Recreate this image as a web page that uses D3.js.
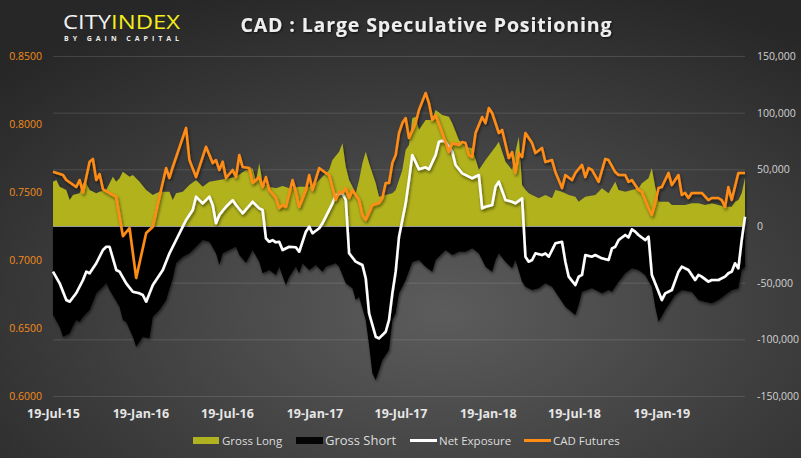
<!DOCTYPE html>
<html><head><meta charset="utf-8">
<script src="https://cdn.jsdelivr.net/npm/d3@7"></script>
<style>html,body{margin:0;padding:0;background:#333;} svg{display:block;}</style>
</head><body><svg id="c" width="801" height="458"></svg>
<script>
// ---------- DATA ----------
const startDate = "2015-07-19";            // first weekly observation
const xTickLabels = ["2015-07-19","2016-01-19","2016-07-19","2017-01-19","2017-07-19","2018-01-19","2018-07-19","2019-01-19"];
const rightTicks = [150000,100000,50000,0,-50000,-100000,-150000];
const leftTicks = [0.60,0.65,0.70,0.75,0.80,0.85];
const legendNames = ["Gross Long","Gross Short","Net Exposure","CAD Futures"];

// weeks since start / values
const longWeeks = [0,1,2,4,5,6,8,9,10,11,13,14,16,18,19,20,21,23,24,26,28,30,32,35,36,37,39,41,43,45,47,50,53,55,58,60,61,62,63,65,67,69,71,74,77,79,81,83,84,86,87,88,89,91,92,93,94,95,97,98,100,102,103,105,106,107,108,109,110,112,114,115,117,119,120,122,124,126,128,130,133,134,136,138,139,140,141,142,143,144,146,148,150,151,153,155,157,158,160,163,164,165,167,169,170,172,174,176,177,179,180,181,182,184,185,186,188,190,192,194,196,198,200,202,204,205,206,207,208];
const longValues = [39100,40600,34700,31800,22900,27400,28900,37700,37700,31800,28900,30300,31800,43500,39100,42100,47900,43500,45000,39100,31800,27400,30300,30300,22900,28900,30300,36200,40600,34700,39100,40600,42100,43500,49400,50900,39100,55300,37700,34700,33300,35300,33300,34700,34700,37700,43500,49400,58200,65600,73000,52300,40600,28900,40600,55300,65600,55300,37700,25900,27400,28900,31800,49400,67100,71500,95000,96400,84700,93500,93500,102400,97900,96400,90600,75900,70000,68600,49400,58200,70000,74400,56700,49400,65600,78800,36000,32000,28900,27400,24400,27400,24400,31800,30300,27400,25900,21400,25900,27400,30300,33300,28900,39100,31800,30300,31800,33300,37700,42100,50900,34700,21400,21400,21400,18500,18500,18500,20000,20000,18500,20000,18500,17000,17000,21400,22900,28900,42400];

const shortWeeks = [0,2,3,5,6,7,8,9,11,12,13,15,16,17,20,21,22,24,25,26,27,29,30,32,34,36,37,39,41,43,45,47,49,50,51,53,55,56,58,60,62,63,65,67,68,70,71,73,74,75,77,79,81,82,85,86,88,90,91,92,94,95,96,97,98,99,101,102,103,104,106,108,110,112,114,115,117,118,120,122,124,126,128,130,132,133,134,136,138,139,141,142,144,146,148,150,152,154,157,158,159,162,165,167,168,170,172,174,176,178,180,181,182,184,187,189,192,194,196,198,200,202,204,206,207,208];
const shortValues = [-78500,-88900,-97700,-94700,-88200,-82900,-84700,-80000,-74100,-67100,-59400,-53600,-50300,-56500,-71200,-82900,-84700,-97700,-106500,-102100,-97700,-99100,-80000,-74100,-65300,-46200,-32600,-27100,-24100,-18300,-12400,-13900,-24100,-34400,-24100,-21200,-18300,-25600,-32400,-21200,-31500,-41700,-38800,-43200,-35900,-52100,-44700,-35900,-41700,-32900,-38800,-34400,-40300,-35900,-32900,-35900,-50600,-55000,-65300,-62400,-82900,-105000,-130000,-135900,-127100,-118200,-109400,-82900,-77000,-59400,-47650,-31800,-30000,-35900,-40300,-30000,-24100,-21200,-25600,-22700,-22700,-19700,-24100,-35900,-40300,-30000,-24100,-31500,-37300,-30000,-49100,-53600,-56500,-55000,-50600,-53600,-62400,-71200,-78500,-69700,-58000,-55000,-59400,-56500,-58000,-49100,-41700,-37300,-38800,-43200,-53600,-71200,-84400,-74100,-60900,-56500,-58000,-65300,-66800,-68200,-65300,-60900,-56500,-55000,-38800,-35900];

const netWeeks = [0,2,4,5,7,9,10,11,12,13,15,16,17,19,20,22,24,26,27,28,30,31,33,35,37,39,40,42,43,45,47,48,49,50,52,54,55,57,60,62,63,64,65,66,67,68,69,71,73,74,76,77,78,80,81,82,84,85,87,88,89,91,93,94,95,97,98,100,101,102,103,104,106,107,108,110,112,113,115,116,117,118,120,121,123,125,126,128,129,130,132,133,134,136,138,139,141,142,143,144,145,147,148,149,151,153,154,155,157,158,159,160,162,163,165,167,168,169,170,172,173,174,175,176,178,179,180,181,183,184,186,188,189,191,192,193,194,195,197,198,200,202,203,204,205,206,207,208];
const netValues = [-40300,-50600,-65300,-66800,-59100,-47650,-40300,-41700,-37300,-32900,-21200,-18300,-18300,-38800,-40300,-50600,-58000,-59400,-60900,-66800,-52100,-47650,-38800,-24100,-12350,-600,5300,14100,25900,20000,25900,18500,2400,9700,17000,22900,18500,11200,21400,15600,14100,-10900,-13900,-12400,-14400,-13900,-21200,-18300,-18800,-22700,-5000,-600,-6400,-2000,2400,8200,20000,27400,28900,22900,-24100,-31500,-34400,-46200,-77000,-97700,-99100,-93300,-82900,-59400,-40300,-9400,20000,40600,62700,50000,51800,50000,62700,74400,75300,74400,65600,53800,46500,43500,42100,45000,15600,17000,18500,34700,39100,22900,21400,20000,24400,-27100,-31500,-30000,-24100,-25600,-24100,-27100,-15300,-13900,-31500,-44700,-52100,-44700,-43200,-25600,-27100,-25600,-28500,-30000,-19700,-18300,-12400,-7900,-10000,-2900,-5000,-7900,-12400,-9400,-43200,-50600,-65300,-59400,-56500,-40300,-35900,-38800,-43200,-47650,-43200,-44700,-49100,-47650,-47650,-44700,-41700,-40300,-32900,-37300,-12400,8200];

const futuresWeeks = [0,3,4,7,8,9,11,12,13,14,15,19,21,23,25,28,30,32,34,35,36,40,41,43,46,48,49,50,51,52,54,55,56,57,59,60,62,63,64,65,67,68,69,70,72,73,74,76,77,78,80,82,83,85,86,87,88,89,90,92,93,94,96,98,99,100,101,102,103,104,105,106,107,109,110,112,113,114,115,117,119,120,122,123,124,125,126,127,129,130,131,132,134,135,137,138,139,140,141,142,144,145,147,148,150,151,153,154,156,157,159,160,161,162,164,166,167,169,170,172,173,174,176,177,179,180,181,182,183,185,186,188,189,190,191,192,194,195,197,198,200,201,202,203,204,206,208];
const futuresPrices = [0.7649,0.7625,0.7588,0.7537,0.7588,0.7495,0.7723,0.7743,0.7588,0.7632,0.7522,0.7465,0.7176,0.7235,0.6868,0.7199,0.7245,0.7465,0.7676,0.7603,0.7684,0.7971,0.7735,0.7610,0.7833,0.7713,0.7735,0.7662,0.7723,0.7603,0.7662,0.7610,0.7772,0.7684,0.7676,0.7566,0.7610,0.7537,0.7610,0.7515,0.7456,0.7382,0.7404,0.7390,0.7588,0.7500,0.7390,0.7515,0.7625,0.7515,0.7676,0.7640,0.7625,0.7441,0.7500,0.7493,0.7529,0.7456,0.7515,0.7441,0.7331,0.7294,0.7404,0.7419,0.7456,0.7566,0.7566,0.7713,0.7772,0.7934,0.8007,0.8044,0.7897,0.8007,0.8103,0.8228,0.8154,0.8029,0.8066,0.7934,0.7794,0.7860,0.7846,0.7868,0.7860,0.7772,0.7757,0.7934,0.8051,0.8007,0.8118,0.8081,0.7934,0.7956,0.7750,0.7794,0.7640,0.7787,0.7757,0.7934,0.7860,0.7787,0.7824,0.7721,0.7735,0.7647,0.7529,0.7625,0.7588,0.7640,0.7699,0.7610,0.7676,0.7662,0.7574,0.7743,0.7735,0.7647,0.7625,0.7625,0.7574,0.7588,0.7515,0.7500,0.7382,0.7331,0.7419,0.7529,0.7537,0.7640,0.7551,0.7625,0.7478,0.7493,0.7456,0.7493,0.7493,0.7493,0.7441,0.7456,0.7456,0.7441,0.7390,0.7537,0.7441,0.7640,0.7640];

// ---------- STYLE ----------
const C = {long:"#b1b21f", short:"#050505", net:"#ffffff", fut:"#ff8c14", grid:"rgba(255,255,255,0.13)"};
const W = 801, H = 458;
const svg = d3.select("#c");
const defs = svg.append("defs");
const rg = defs.append("radialGradient").attr("id","bg").attr("cx","55%").attr("cy","68%").attr("r","75%");
rg.append("stop").attr("offset","0%").attr("stop-color","#5c5c5c");
rg.append("stop").attr("offset","100%").attr("stop-color","#272727");
const sh = defs.append("filter").attr("id","sh").attr("x","-5%").attr("y","-10%").attr("width","110%").attr("height","130%");
sh.append("feDropShadow").attr("dx",1).attr("dy",2).attr("stdDeviation",1.6).attr("flood-color","#000").attr("flood-opacity",0.55);
const tsh = defs.append("filter").attr("id","tsh").attr("x","-5%").attr("y","-20%").attr("width","110%").attr("height","150%");
tsh.append("feDropShadow").attr("dx",1).attr("dy",1).attr("stdDeviation",1).attr("flood-color","#000").attr("flood-opacity",0.7);

svg.append("rect").attr("width",W).attr("height",H).attr("fill","url(#bg)");

const parse = d3.timeParse("%Y-%m-%d");
const start = parse(startDate);
const wk = w => d3.timeDay.offset(start, w*7);
const x = d3.scaleTime().domain([start, wk(208)]).range([53,745]);
const yR = d3.scaleLinear().domain([-150000,150000]).range([396,56]);
const yL = d3.scaleLinear().domain([0.60,0.85]).range([396,56]);

const zip = (ws, vs) => ws.map((w,i)=>({d:wk(w), v:vs[i]}));
const longData = zip(longWeeks,longValues);
const shortData = zip(shortWeeks,shortValues);
const netData = zip(netWeeks,netValues);
const futData = zip(futuresWeeks,futuresPrices);

// grid
svg.append("g").selectAll("line").data(rightTicks).join("line")
  .attr("x1",53).attr("x2",745).attr("y1",d=>yR(d)+0.5).attr("y2",d=>yR(d)+0.5)
  .attr("stroke",C.grid).attr("stroke-width",1);

// areas
const areaR = d3.area().x(d=>x(d.d)).y0(yR(0)).y1(d=>yR(d.v));
svg.append("path").datum(longData).attr("d",areaR).attr("fill",C.long).attr("filter","url(#sh)");
svg.append("path").datum(shortData).attr("d",areaR).attr("fill",C.short).attr("filter","url(#sh)");
svg.append("line").attr("x1",53).attr("x2",745).attr("y1",yR(0)+0.5).attr("y2",yR(0)+0.5)
  .attr("stroke","#9a9a9a").attr("stroke-width",1);

// lines
const lineR = d3.line().x(d=>x(d.d)).y(d=>yR(d.v));
const lineL = d3.line().x(d=>x(d.d)).y(d=>yL(d.v));
svg.append("path").datum(netData).attr("d",lineR).attr("fill","none").attr("stroke",C.net)
  .attr("stroke-width",2.6).attr("stroke-linejoin","round").attr("filter","url(#sh)");
svg.append("path").datum(futData).attr("d",lineL).attr("fill","none").attr("stroke",C.fut)
  .attr("stroke-width",2.6).attr("stroke-linejoin","round").attr("filter","url(#sh)");

// axes
const loc = d3.formatLocale({decimal:".",thousands:",",grouping:[3],currency:["$",""],minus:"-"});
const gR = svg.append("g").attr("transform","translate(757,0)")
  .call(d3.axisRight(yR).tickValues(rightTicks).tickFormat(loc.format(",")).tickSize(0).tickPadding(0));
gR.select(".domain").remove();
gR.selectAll("text").attr("fill","#d2d2d2").attr("font-family","'Open Sans', sans-serif").attr("font-size",10.5);

const gL = svg.append("g").attr("transform","translate(42,0)")
  .call(d3.axisLeft(yL).tickValues(leftTicks).tickFormat(loc.format(".4f")).tickSize(0).tickPadding(0));
gL.select(".domain").remove();
gL.selectAll("text").attr("fill","#f28c1c").attr("font-family","'Open Sans', sans-serif").attr("font-size",10.5);

const gX = svg.append("g").attr("transform","translate(0,400)")
  .call(d3.axisBottom(x).tickValues(xTickLabels.map(parse)).tickFormat(d3.timeFormat("%d-%b-%y")).tickSize(0).tickPadding(9));
gX.select(".domain").remove();
gX.selectAll("text").attr("fill","#e6e6e6").attr("font-family","'Open Sans', sans-serif")
  .attr("font-size",12.5).attr("font-weight","bold");

// title
svg.append("text").attr("x",426).attr("y",31.5).attr("text-anchor","middle")
  .attr("font-family","'Open Sans', sans-serif").attr("font-weight","bold").attr("font-size",19.5)
  .attr("textLength",371).attr("lengthAdjust","spacing")
  .attr("fill","#eeeeee").attr("filter","url(#tsh)").text("CAD : Large Speculative Positioning");

// logo
const logo = svg.append("text").attr("x",63).attr("y",28.5).attr("font-family","'Open Sans', sans-serif")
  .attr("font-size",20).attr("font-weight",400).attr("textLength",117).attr("lengthAdjust","spacingAndGlyphs");
logo.append("tspan").attr("fill","#f2f2f2").text("CITY");
logo.append("tspan").attr("fill","#f3ef1a").text("INDEX");
svg.append("text").attr("x",64).attr("y",41).attr("font-family","'Open Sans', sans-serif")
  .attr("font-size",7).attr("font-weight","bold").attr("fill","#eeeeee")
  .attr("textLength",115).attr("lengthAdjust","spacing").text("BY GAIN CAPITAL");

// legend
const lg = svg.append("g").attr("font-family","'Open Sans', sans-serif").attr("fill","#dddddd");
lg.append("rect").attr("x",193).attr("y",437).attr("width",26).attr("height",7).attr("fill",C.long);
lg.append("text").attr("x",222).attr("y",444.5).attr("font-size",11.5).text(legendNames[0]);
lg.append("rect").attr("x",296).attr("y",437).attr("width",27).attr("height",7).attr("fill",C.short);
lg.append("text").attr("x",325).attr("y",445).attr("font-size",13).text(legendNames[1]);
lg.append("line").attr("x1",410).attr("x2",437).attr("y1",440.5).attr("y2",440.5).attr("stroke",C.net).attr("stroke-width",3);
lg.append("text").attr("x",439).attr("y",444.5).attr("font-size",11.5).text(legendNames[2]);
lg.append("line").attr("x1",524).attr("x2",551).attr("y1",440.5).attr("y2",440.5).attr("stroke",C.fut).attr("stroke-width",3);
lg.append("text").attr("x",553).attr("y",444.5).attr("font-size",11.5).text(legendNames[3]);
</script></body></html>
